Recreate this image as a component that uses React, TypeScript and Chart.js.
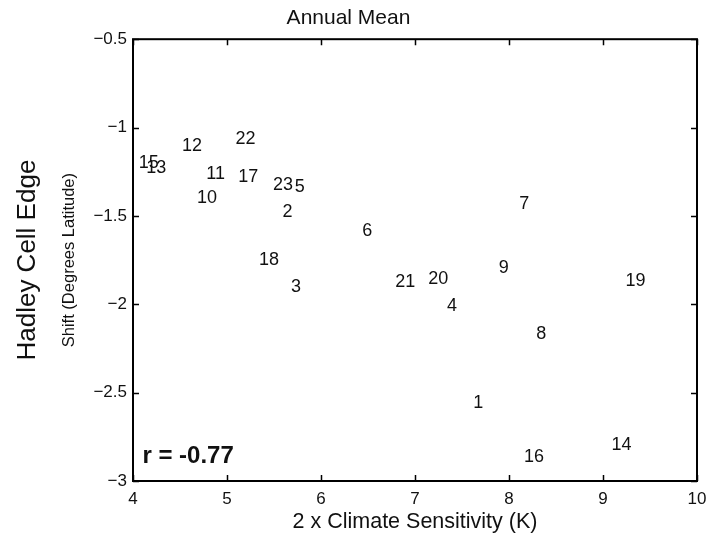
import React, { useEffect, useRef } from "react";
import { Chart, registerables } from "chart.js";

Chart.register(...registerables);

const FONT = "'Liberation Sans', Arial, Helvetica, sans-serif";

// Model numbers (labels drawn at the data position, left-aligned as in MATLAB text())
const modelIds = [
  "1", "2", "3", "4", "5", "6", "7", "8", "9", "10", "11", "12",
  "13", "14", "15", "16", "17", "18", "19", "20", "21", "22", "23",
];
// 2 x Climate Sensitivity (K)
const sensitivity = [
  7.62, 5.59, 5.68, 7.34, 5.72, 6.44, 8.11, 8.29, 7.89, 4.68, 4.78, 4.52,
  4.14, 9.09, 4.06, 8.16, 5.12, 5.34, 9.24, 7.14, 6.79, 5.09, 5.49,
];
// Hadley cell edge shift (degrees latitude)
const shift = [
  -2.56, -1.48, -1.9, -2.01, -1.337, -1.583, -1.433, -2.167, -1.796, -1.4, -1.262, -1.107,
  -1.23, -2.795, -1.201, -2.865, -1.28, -1.752, -1.867, -1.858, -1.875, -1.065, -1.324,
];

const xTicks = [4, 5, 6, 7, 8, 9, 10];
const yTicks = [-3, -2.5, -2, -1.5, -1, -0.5];
const yTickLabels = ["\u22123", "\u22122.5", "\u22122", "\u22121.5", "\u22121", "\u22120.5"];

const titleText = "Annual Mean";
const xTitle = "2 x Climate Sensitivity (K)";
const yTitleInner = "Shift (Degrees Latitude)";
const yTitleOuter = "Hadley Cell Edge";
const corrText = "r = -0.77";
const corrX = 4.1;
const corrY = -2.862;

const framePlugin = {
  id: "frameAndLabels",
  afterDatasetsDraw(chart: any) {
    const { ctx, chartArea, scales } = chart;
    const { left, right, top, bottom } = chartArea;
    ctx.save();
    ctx.strokeStyle = "#000";
    ctx.lineWidth = 2;
    ctx.strokeRect(left, top, right - left, bottom - top);
    const tl = 6;
    ctx.beginPath();
    xTicks.forEach((v) => {
      const px = Math.round(scales.x.getPixelForValue(v)) + 0.5;
      ctx.moveTo(px, bottom);
      ctx.lineTo(px, bottom - tl);
      ctx.moveTo(px, top);
      ctx.lineTo(px, top + tl);
    });
    yTicks.forEach((v) => {
      const py = Math.round(scales.y.getPixelForValue(v)) + 0.5;
      ctx.moveTo(left, py);
      ctx.lineTo(left + tl, py);
      ctx.moveTo(right, py);
      ctx.lineTo(right - tl, py);
    });
    ctx.lineWidth = 1.5;
    ctx.stroke();

    ctx.fillStyle = "#111";
    ctx.font = `18px ${FONT}`;
    ctx.textAlign = "left";
    ctx.textBaseline = "middle";
    const meta = chart.getDatasetMeta(0);
    meta.data.forEach((pt: any, i: number) => {
      ctx.fillText(modelIds[i], pt.x, pt.y);
    });
    ctx.font = `bold 24px ${FONT}`;
    ctx.fillText(corrText, scales.x.getPixelForValue(corrX), scales.y.getPixelForValue(corrY));
    ctx.restore();
  },
};

export default function App() {
  const canvasRef = useRef<HTMLCanvasElement | null>(null);

  useEffect(() => {
    if (!canvasRef.current) return;
    const points = sensitivity.map((x, i) => ({ x, y: shift[i] }));
    const chart = new Chart(canvasRef.current, {
      type: "scatter",
      data: {
        datasets: [
          {
            label: "models",
            data: points,
            pointRadius: 0,
            pointHoverRadius: 0,
            showLine: false,
          },
        ],
      },
      plugins: [framePlugin],
      options: {
        animation: false,
        responsive: true,
        maintainAspectRatio: false,
        events: [],
        layout: { padding: { left: 0, right: 13, top: 0, bottom: 0 } },
        plugins: {
          legend: { display: false },
          tooltip: { enabled: false },
          title: {
            display: true,
            text: titleText,
            color: "#111",
            font: { family: FONT, size: 21, weight: "normal" },
            padding: { top: 6, bottom: 8 },
          },
        },
        scales: {
          x: {
            type: "linear",
            position: "bottom",
            min: 4,
            max: 10,
            grid: { display: false, drawTicks: false },
            border: { display: false },
            ticks: {
              stepSize: 1,
              autoSkip: false,
              maxRotation: 0,
              padding: 8,
              color: "#111",
              font: { family: FONT, size: 17 },
            },
            title: {
              display: true,
              text: xTitle,
              color: "#111",
              font: { family: FONT, size: 21.5 },
              padding: { top: 0, bottom: 0 },
            },
            afterFit: (scale: any) => {
              scale.height = 54;
              scale.paddingLeft = 0;
              scale.paddingRight = 0;
            },
          },
          y: {
            type: "linear",
            position: "left",
            weight: 0,
            min: -3,
            max: -0.5,
            grid: { display: false, drawTicks: false },
            border: { display: false },
            ticks: {
              stepSize: 0.5,
              autoSkip: false,
              padding: 6,
              color: "#111",
              font: { family: FONT, size: 17 },
              callback: (v: any) => {
                const idx = yTicks.findIndex((t) => Math.abs(t - Number(v)) < 1e-6);
                return idx >= 0 ? yTickLabels[idx] : "";
              },
            },
            title: {
              display: true,
              text: yTitleInner,
              color: "#111",
              font: { family: FONT, size: 16.5 },
              padding: { top: 5, bottom: 0 },
            },
            afterFit: (scale: any) => {
              scale.width = 78;
              scale.paddingTop = 0;
              scale.paddingBottom = 0;
            },
          },
          y2: {
            type: "linear",
            position: "left",
            weight: 1,
            min: -3,
            max: -0.5,
            grid: { display: false, drawTicks: false },
            border: { display: false },
            ticks: { display: false },
            title: {
              display: true,
              text: yTitleOuter,
              color: "#111",
              font: { family: FONT, size: 26 },
              padding: { top: 12, bottom: 0 },
            },
            afterFit: (scale: any) => {
              scale.width = 55;
            },
          },
        },
      },
    });
    return () => chart.destroy();
  }, []);

  return (
    <div
      style={{
        position: "fixed",
        left: 0,
        top: 0,
        width: 710,
        height: 535,
        background: "#fff",
      }}
    >
      <canvas ref={canvasRef} />
    </div>
  );
}
